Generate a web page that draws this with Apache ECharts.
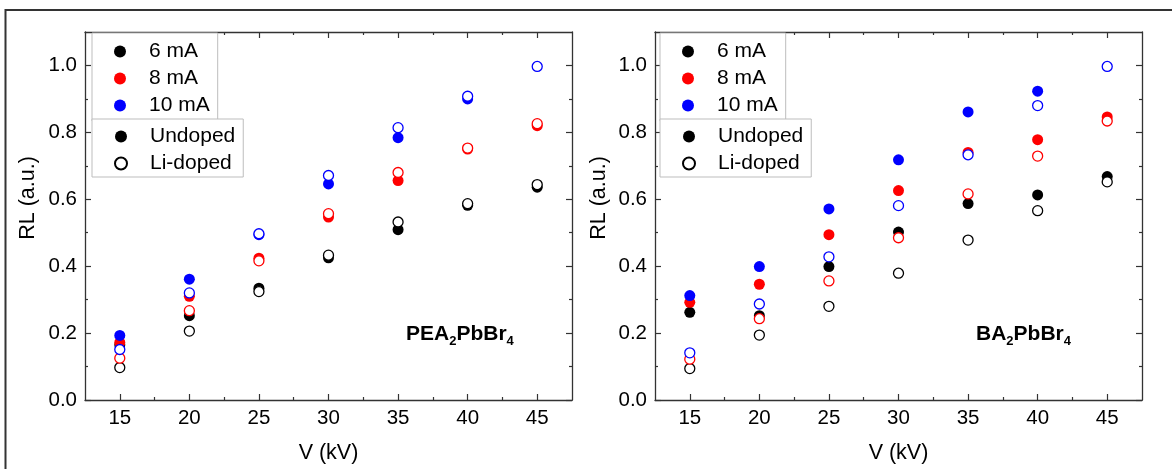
<!DOCTYPE html>
<html>
<head>
<meta charset="utf-8">
<script src="https://cdn.jsdelivr.net/npm/echarts@6/dist/echarts.min.js"></script>
<style>html,body{margin:0;padding:0;background:#fff;}#c{width:1172px;height:469px;}</style>
</head>
<body>
<div id="c"></div>
<script>
const voltages = [15, 20, 25, 30, 35, 40, 45];
const xMajorTicks = [15, 20, 25, 30, 35, 40, 45];
const xMinorTicks = [17.5, 22.5, 27.5, 32.5, 37.5, 42.5];
const yMajorTicks = [0, 0.2, 0.4, 0.6, 0.8, 1.0];
const yMinorTicks = [0.1, 0.3, 0.5, 0.7, 0.9];

// PEA2PbBr4 (left)
const peaUndoped6  = [0.165, 0.252, 0.334, 0.425, 0.509, 0.582, 0.636];
const peaUndoped8  = [0.172, 0.310, 0.424, 0.547, 0.656, 0.750, 0.820];
const peaUndoped10 = [0.193, 0.361, 0.494, 0.646, 0.784, 0.900, null];
const peaLi6  = [0.097, 0.206, 0.324, 0.433, 0.532, 0.587, 0.644];
const peaLi8  = [0.125, 0.267, 0.416, 0.557, 0.680, 0.753, 0.826];
const peaLi10 = [0.151, 0.320, 0.497, 0.671, 0.814, 0.908, 0.997];

// BA2PbBr4 (right)
const baUndoped6  = [0.262, 0.252, 0.399, 0.502, 0.587, 0.613, 0.668];
const baUndoped8  = [0.292, 0.346, 0.494, 0.626, 0.740, 0.778, 0.846];
const baUndoped10 = [0.312, 0.399, 0.571, 0.718, 0.861, 0.923, null];
const baLi6  = [0.094, 0.194, 0.280, 0.379, 0.478, 0.566, 0.652];
const baLi8  = [0.122, 0.243, 0.356, 0.485, 0.616, 0.729, 0.834];
const baLi10 = [0.141, 0.287, 0.428, 0.581, 0.733, 0.880, 0.997];

const currentNames = ['6 mA', '8 mA', '10 mA'];
const dopingNames = ['Undoped', 'Li-doped'];
const colors = ['#000000', '#ff0000', '#0000ff'];

const FONT = 'Liberation Sans, Arial, sans-serif';
const AX = '#333333';

function pts(vals) {
  const out = [];
  vals.forEach((v, i) => { if (v !== null) out.push([voltages[i], v]); });
  return out;
}

const grids = [
  { left: 85, top: 32, width: 487, height: 369 },
  { left: 655, top: 32, width: 487, height: 369 }
];

const xAxes = [], yAxes = [];
[0, 1].forEach(g => {
  const base = { gridIndex: g, type: 'value', min: 12.5, max: 47.5, splitLine: { show: false } };
  xAxes.push(Object.assign({}, base, {
    position: 'bottom',
    axisLine: { show: true, onZero: false, lineStyle: { color: AX, width: 1.3 } },
    axisTick: { show: true, inside: true, length: 6, customValues: xMajorTicks, lineStyle: { color: AX, width: 1.2 } },
    axisLabel: { show: true, customValues: xMajorTicks, margin: 8, color: '#000', fontSize: 20.5, fontFamily: FONT },
    name: 'V (kV)', nameLocation: 'middle', nameGap: 42,
    nameTextStyle: { color: '#000', fontSize: 21.5, fontFamily: FONT }
  }));
  xAxes.push(Object.assign({}, base, {
    position: 'bottom',
    axisLine: { show: false, onZero: false },
    axisTick: { show: true, inside: true, length: 3, customValues: xMinorTicks, lineStyle: { color: AX, width: 1.2 } },
    axisLabel: { show: false }
  }));
  xAxes.push(Object.assign({}, base, {
    position: 'top',
    axisLine: { show: true, onZero: false, lineStyle: { color: AX, width: 1.3 } },
    axisTick: { show: true, inside: true, length: 6, customValues: xMajorTicks, lineStyle: { color: AX, width: 1.2 } },
    axisLabel: { show: false }
  }));
  xAxes.push(Object.assign({}, base, {
    position: 'top',
    axisLine: { show: false, onZero: false },
    axisTick: { show: true, inside: true, length: 3, customValues: xMinorTicks, lineStyle: { color: AX, width: 1.2 } },
    axisLabel: { show: false }
  }));

  const ybase = { gridIndex: g, type: 'value', min: 0, max: 1.1, splitLine: { show: false } };
  yAxes.push(Object.assign({}, ybase, {
    position: 'left',
    axisLine: { show: true, onZero: false, lineStyle: { color: AX, width: 1.3 } },
    axisTick: { show: true, inside: true, length: 6, customValues: yMajorTicks, lineStyle: { color: AX, width: 1.2 } },
    axisLabel: { show: true, customValues: yMajorTicks, margin: 8, color: '#000', fontSize: 20.5, fontFamily: FONT,
                 formatter: v => Number(v).toFixed(1) }
  }));
  yAxes.push(Object.assign({}, ybase, {
    position: 'left',
    axisLine: { show: false, onZero: false },
    axisTick: { show: true, inside: true, length: 3, customValues: yMinorTicks, lineStyle: { color: AX, width: 1.2 } },
    axisLabel: { show: false }
  }));
  yAxes.push(Object.assign({}, ybase, {
    position: 'right',
    axisLine: { show: true, onZero: false, lineStyle: { color: AX, width: 1.3 } },
    axisTick: { show: true, inside: true, length: 6, customValues: yMajorTicks, lineStyle: { color: AX, width: 1.2 } },
    axisLabel: { show: false }
  }));
  yAxes.push(Object.assign({}, ybase, {
    position: 'right',
    axisLine: { show: false, onZero: false },
    axisTick: { show: true, inside: true, length: 3, customValues: yMinorTicks, lineStyle: { color: AX, width: 1.2 } },
    axisLabel: { show: false }
  }));
});

const panels = [
  { filled: [peaUndoped6, peaUndoped8, peaUndoped10], open: [peaLi6, peaLi8, peaLi10] },
  { filled: [baUndoped6, baUndoped8, baUndoped10], open: [baLi6, baLi8, baLi10] }
];

const series = [];
// legend-only series (no data)
currentNames.forEach((n, i) => {
  series.push({ type: 'scatter', name: n, xAxisIndex: 0, yAxisIndex: 0, data: [],
    itemStyle: { color: colors[i], opacity: 1 } });
});
series.push({ type: 'scatter', name: dopingNames[0], xAxisIndex: 0, yAxisIndex: 0, data: [],
  itemStyle: { color: '#000', opacity: 1 } });
series.push({ type: 'scatter', name: dopingNames[1], xAxisIndex: 0, yAxisIndex: 0, data: [],
  itemStyle: { color: '#fff', borderColor: '#000', borderWidth: 1, opacity: 1 } });

panels.forEach((p, g) => {
  p.filled.forEach((vals, i) => {
    series.push({ type: 'scatter', name: currentNames[i] + ' undoped ' + g, xAxisIndex: g * 4, yAxisIndex: g * 4,
      symbol: 'circle', symbolSize: 11, data: pts(vals), itemStyle: { color: colors[i], opacity: 1 }, silent: true });
  });
  p.open.forEach((vals, i) => {
    series.push({ type: 'scatter', name: currentNames[i] + ' Li ' + g, xAxisIndex: g * 4, yAxisIndex: g * 4,
      symbol: 'circle', symbolSize: 10, data: pts(vals),
      itemStyle: { color: '#ffffff', borderColor: colors[i], borderWidth: 1.3, opacity: 1 }, silent: true });
  });
});

const legendText = { color: '#000', fontSize: 21, lineHeight: 20, fontFamily: FONT };
function legendBox(left, top, data, pad) {
  return { show: true, orient: 'vertical', left: left, top: top, data: data, icon: 'circle',
    itemWidth: 48, itemHeight: 12, itemGap: 6, padding: pad,
    borderColor: '#bdbdbd', borderWidth: 1, backgroundColor: '#fff', selectedMode: false,
    itemStyle: { opacity: 1 },
    textStyle: legendText };
}

const richTitle = {
  b: { fontSize: 21, fontWeight: 'bold', fontFamily: FONT, color: '#000', lineHeight: 28, verticalAlign: 'middle' },
  s: { fontSize: 13, fontWeight: 'bold', fontFamily: FONT, color: '#000', lineHeight: 13, verticalAlign: 'bottom' }
};

const option = {
  animation: false,
  backgroundColor: '#ffffff',
  grid: grids,
  xAxis: xAxes,
  yAxis: yAxes,
  legend: [
    legendBox(92, 33, currentNames, [8, 8, 5, 22]),
    legendBox(92, 119, dopingNames, [7, 8, 3, 22]),
    legendBox(660, 33, currentNames, [8, 8, 5, 22]),
    legendBox(660, 119, dopingNames, [7, 8, 3, 22])
  ],
  title: [
    { text: '{b|PEA}{s|2}{b|PbBr}{s|4}', left: 406, top: 320, padding: 0, textStyle: { rich: richTitle } },
    { text: '{b|BA}{s|2}{b|PbBr}{s|4}', left: 976, top: 320, padding: 0, textStyle: { rich: richTitle } }
  ],
  graphic: [
    { type: 'polyline', shape: { points: [[5.5, 469], [5.5, 10], [1172, 10]] }, style: { stroke: '#333', lineWidth: 2, fill: null }, silent: true },
    { type: 'text', x: 28, y: 198, rotation: Math.PI / 2, style: { text: 'RL (a.u.)', fill: '#000', font: '21.5px ' + FONT, textAlign: 'center', textVerticalAlign: 'middle' } },
    { type: 'text', x: 599, y: 198, rotation: Math.PI / 2, style: { text: 'RL (a.u.)', fill: '#000', font: '21.5px ' + FONT, textAlign: 'center', textVerticalAlign: 'middle' } }
  ],
  series: series
};

const chart = echarts.init(document.getElementById('c'), null, { renderer: 'canvas' });
chart.setOption(option);
</script>
</body>
</html>
